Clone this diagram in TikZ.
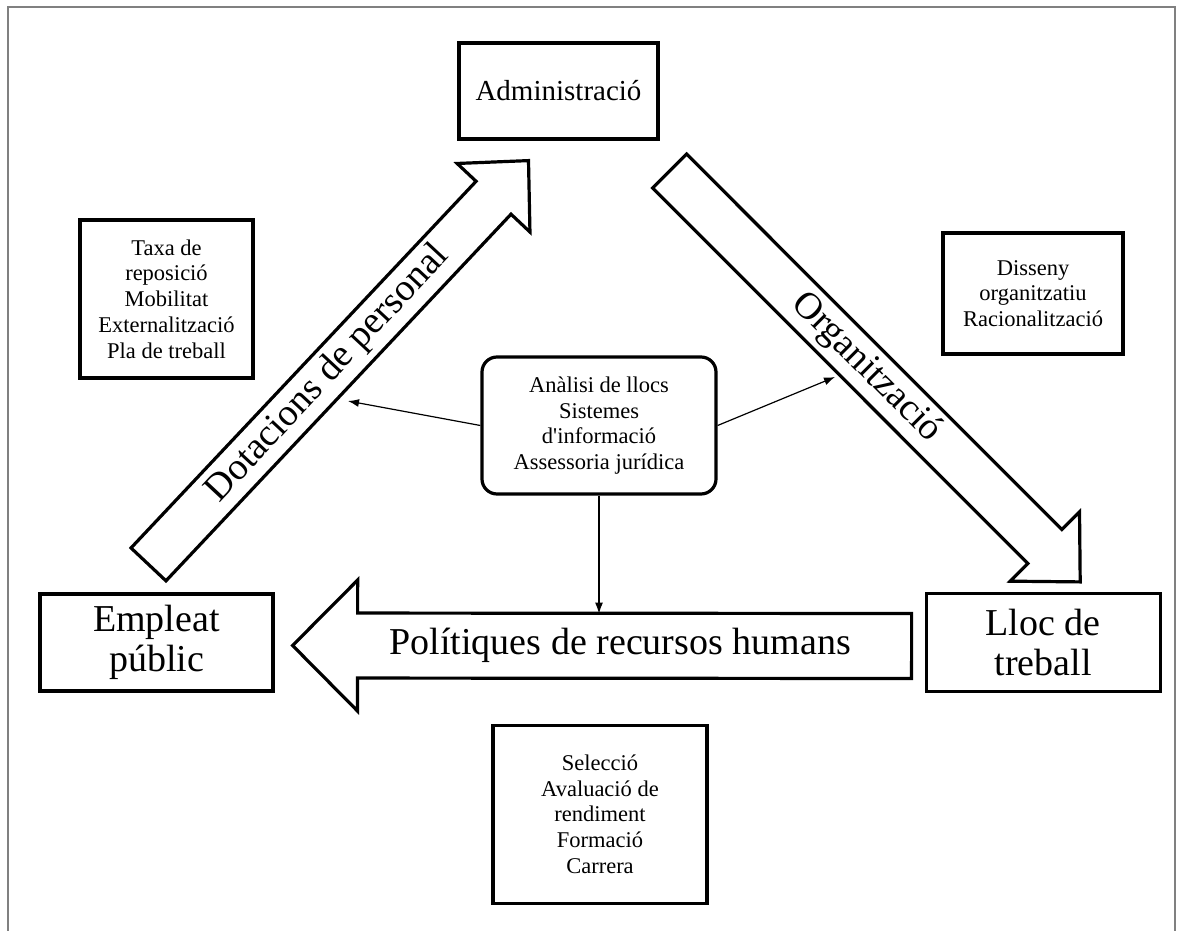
\documentclass[tikz,border=0pt]{standalone}
\usepackage{fontspec}
\setmainfont{Liberation Serif}
\usetikzlibrary{arrows.meta,positioning,calc}
\definecolor{framegray}{HTML}{808080}

\begin{document}
\begin{tikzpicture}[
 x=1pt,y=-1pt,>=Latex,
 font=\fontsize{22.5}{25.7}\selectfont,
 box/.style={draw,line width=3.2pt,align=center,inner sep=0pt},
 hub/.style={box,rounded corners=15pt},
 bigtext/.style={font=\fontsize{38}{40}\selectfont,align=center},
 blockarrow/.style={draw,line width=3.2pt,fill=white,line join=miter},
 flow/.style={-{Latex[length=11pt,width=8pt]},line width=1.2pt}
]
\useasboundingbox (0,0) rectangle (1183,931);
\draw[framegray,line width=1.3pt] (8,931) -- (8,7) -- (1175,7) -- (1175,931);

% the three poles
\node[box,minimum width=199pt,minimum height=96pt,
 font=\fontsize{29}{33}\selectfont] (admin) at (558.5,91) {Administració};
\node[box,bigtext,minimum width=233pt,minimum height=97pt] (empleat) at (156.5,642.5) {Empleat\\públic};
\node[box,bigtext,minimum width=234pt,minimum height=98pt,right=650pt of empleat] (lloc) {Lloc de\\treball};

% side notes
\node[box,minimum width=173pt,minimum height=158pt] (taxa) at (166.5,299) {
 Taxa de\\reposició\\Mobilitat\\Externalització\\Pla de treball};
\node[box,minimum width=180pt,minimum height=121pt] (disseny) at (1033,293.5) {
 Disseny\\organitzatiu\\Racionalització};
\node[hub,minimum width=234pt,minimum height=137pt] (anal) at (599,425.5) {
 Anàlisi de llocs\\Sistemes\\d\textquotesingle informació\\Assessoria jurídica};
\node[box,minimum width=214pt,minimum height=178pt,below=228pt of anal,xshift=1pt] (selec) {
 Selecció\\Avaluació de\\rendiment\\Formació\\Carrera};

% block arrows between the poles
\coordinate (dotTail) at ([shift={(-8,-28)}]empleat.north);
\coordinate (dotTip) at ([shift={(-30,20)}]admin.south);
\coordinate (dotBase) at ($(dotTip)!51pt!(dotTail)$);
\coordinate (orgTail) at ([shift={(10,80)}]admin.east);
\coordinate (orgTip) at ([shift={(37,-10)}]lloc.north);
\coordinate (orgBase) at ($(orgTip)!50pt!(orgTail)$);
\coordinate (polTail) at ([shift={(-13,3.5)}]lloc.west);
\coordinate (polTip) at ([shift={(18,3)}]empleat.east);
\coordinate (polBase) at ($(polTip)!65pt!(polTail)$);

\draw[blockarrow] ($(dotTail)!24pt!90:(dotTip)$) -- ($(dotBase)!24pt!90:(dotTip)$)
 -- ($(dotBase)!50pt!90:(dotTip)$) -- (dotTip) -- ($(dotBase)!50pt!-90:(dotTip)$)
 -- ($(dotBase)!24pt!-90:(dotTip)$) -- ($(dotTail)!24pt!-90:(dotTip)$) -- cycle;
\draw[blockarrow] ($(orgTail)!24pt!90:(orgTip)$) -- ($(orgBase)!24pt!90:(orgTip)$)
 -- ($(orgBase)!49pt!90:(orgTip)$) -- (orgTip) -- ($(orgBase)!49pt!-90:(orgTip)$)
 -- ($(orgBase)!24pt!-90:(orgTip)$) -- ($(orgTail)!24pt!-90:(orgTip)$) -- cycle;
\draw[blockarrow] ($(polTail)!32.5pt!90:(polTip)$) -- ($(polBase)!32.5pt!90:(polTip)$)
 -- ($(polBase)!65.5pt!90:(polTip)$) -- (polTip) -- ($(polBase)!65.5pt!-90:(polTip)$)
 -- ($(polBase)!32.5pt!-90:(polTip)$) -- ($(polTail)!32.5pt!-90:(polTip)$) -- cycle;

\node[bigtext,rotate=47] (dotLabel) at ($(dotTail)!0.52!(dotBase)$) {Dotacions de personal};
\node[bigtext,rotate=-45] (orgLabel) at ($(orgTail)!0.524!(orgBase)$) {Organització};
\node[bigtext] (polLabel) at ($(polTail)!0.526!(polBase)$) {Polítiques de recursos humans};

% support links from the hub
\coordinate (dotHit) at (348,401);
\coordinate (orgHit) at (835,377);
\coordinate (polIn) at ($(anal.south)+(0,118)$);
\draw[flow] (anal.west) -- (dotHit);
\draw[flow] (anal.east) -- (orgHit);
\draw[flow] (anal.south) -- (polIn);
\end{tikzpicture}
\end{document}
